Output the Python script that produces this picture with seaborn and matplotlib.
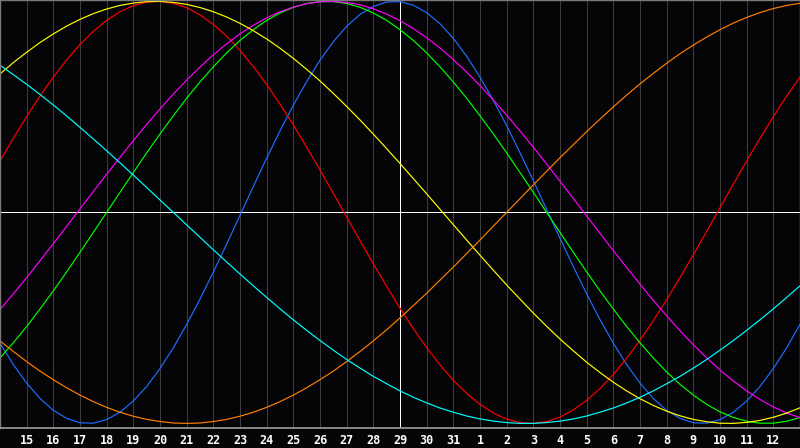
import pandas as pd
import seaborn as sns
import matplotlib.pyplot as plt

# days relative to the current day (29th); values read at whole days and at half days
day_offsets = list(range(-15, 16))
half_offsets = [d + 0.5 for d in range(-15, 15)]
day_labels = ['15', '16', '17', '18', '19', '20', '21', '22', '23', '24', '25', '26', '27', '28',
              '29', '30', '31', '1', '2', '3', '4', '5', '6', '7', '8', '9', '10', '11', '12']
label_pos = list(range(-14, 15))

c23_day = [-0.620, -0.809, -0.938, -0.997, -0.982, -0.894, -0.740, -0.531, -0.283, -0.014, 0.257,
           0.508, 0.721, 0.882, 0.976, 0.999, 0.947, 0.825, 0.641, 0.411, 0.150, -0.123, -0.386,
           -0.620, -0.809, -0.938, -0.997, -0.982, -0.894, -0.740, -0.531]
c23_half = [-0.721, -0.882, -0.976, -0.999, -0.947, -0.825, -0.642, -0.411, -0.150, 0.123, 0.386,
            0.620, 0.809, 0.938, 0.997, 0.982, 0.894, 0.740, 0.531, 0.283, 0.014, -0.257, -0.508,
            -0.721, -0.882, -0.976, -0.999, -0.947, -0.825, -0.642]
c28_day = [0.244, 0.454, 0.641, 0.796, 0.910, 0.980, 1.000, 0.970, 0.891, 0.768, 0.606, 0.414,
           0.201, -0.022, -0.244, -0.454, -0.641, -0.796, -0.910, -0.980, -1.000, -0.970, -0.891,
           -0.768, -0.606, -0.414, -0.201, 0.022, 0.244, 0.454, 0.641]
c28_half = [0.351, 0.551, 0.723, 0.858, 0.951, 0.996, 0.991, 0.936, 0.835, 0.691, 0.513, 0.309,
            0.090, -0.134, -0.351, -0.551, -0.723, -0.858, -0.951, -0.996, -0.991, -0.936, -0.835,
            -0.691, -0.513, -0.309, -0.090, 0.134, 0.351, 0.551]
c33_day = [-0.690, -0.541, -0.372, -0.189, 0.000, 0.189, 0.372, 0.541, 0.690, 0.815, 0.910, 0.972,
           0.999, 0.990, 0.945, 0.866, 0.756, 0.618, 0.458, 0.282, 0.095, -0.095, -0.282, -0.458,
           -0.618, -0.756, -0.866, -0.945, -0.990, -0.999, -0.972]
c33_half = [-0.618, -0.458, -0.282, -0.095, 0.095, 0.282, 0.458, 0.618, 0.756, 0.866, 0.945, 0.990,
            0.999, 0.972, 0.910, 0.815, 0.690, 0.541, 0.372, 0.189, 0.000, -0.189, -0.372, -0.541,
            -0.690, -0.815, -0.910, -0.972, -0.999, -0.990]
c38_day = [-0.461, -0.309, -0.148, 0.017, 0.181, 0.340, 0.490, 0.627, 0.747, 0.846, 0.922, 0.973,
           0.998, 0.995, 0.965, 0.909, 0.828, 0.724, 0.601, 0.461, 0.309, 0.148, -0.017, -0.181,
           -0.340, -0.490, -0.627, -0.747, -0.846, -0.922, -0.973]
c38_half = [-0.386, -0.229, -0.066, 0.099, 0.261, 0.417, 0.561, 0.689, 0.799, 0.887, 0.951, 0.989,
            1.000, 0.984, 0.940, 0.871, 0.779, 0.665, 0.533, 0.386, 0.229, 0.066, -0.099, -0.261,
            -0.417, -0.561, -0.689, -0.799, -0.887, -0.951]
c43_day = [0.656, 0.759, 0.846, 0.915, 0.964, 0.992, 1.000, 0.986, 0.951, 0.896, 0.822, 0.730,
           0.623, 0.502, 0.371, 0.232, 0.088, -0.058, -0.203, -0.344, -0.477, -0.600, -0.710,
           -0.805, -0.883, -0.942, -0.981, -0.999, -0.995, -0.971, -0.926]
c43_half = [0.710, 0.805, 0.883, 0.942, 0.981, 0.999, 0.995, 0.971, 0.926, 0.861, 0.778, 0.678,
            0.564, 0.438, 0.302, 0.160, 0.015, -0.131, -0.274, -0.411, -0.540, -0.656, -0.759,
            -0.846, -0.915, -0.964, -0.992, -1.000, -0.986, -0.951]
c48_day = [-0.609, -0.707, -0.793, -0.866, -0.924, -0.966, -0.991, -1.000, -0.991, -0.966, -0.924,
           -0.866, -0.793, -0.707, -0.609, -0.500, -0.383, -0.259, -0.131, 0.000, 0.131, 0.259,
           0.383, 0.500, 0.609, 0.707, 0.793, 0.866, 0.924, 0.966, 0.991]
c48_half = [-0.659, -0.752, -0.831, -0.897, -0.947, -0.981, -0.998, -0.998, -0.981, -0.947, -0.897,
            -0.831, -0.752, -0.659, -0.556, -0.442, -0.321, -0.195, -0.065, 0.065, 0.195, 0.321,
            0.442, 0.556, 0.659, 0.752, 0.831, 0.897, 0.947, 0.981]
c53_day = [0.697, 0.607, 0.509, 0.403, 0.292, 0.177, 0.059, -0.059, -0.177, -0.292, -0.403, -0.509,
           -0.607, -0.697, -0.777, -0.846, -0.903, -0.947, -0.979, -0.996, -1.000, -0.989, -0.965,
           -0.927, -0.876, -0.812, -0.738, -0.653, -0.559, -0.457, -0.348]
c53_half = [0.653, 0.559, 0.457, 0.348, 0.235, 0.118, 0.000, -0.118, -0.235, -0.348, -0.457, -0.559,
            -0.653, -0.738, -0.812, -0.876, -0.927, -0.965, -0.989, -1.000, -0.996, -0.979, -0.947,
            -0.903, -0.846, -0.777, -0.697, -0.607, -0.509, -0.403]

cycles = {'23': (c23_day, c23_half), '28': (c28_day, c28_half), '33': (c33_day, c33_half),
          '38': (c38_day, c38_half), '43': (c43_day, c43_half), '48': (c48_day, c48_half),
          '53': (c53_day, c53_half)}
colors = {'23': '#1e6eff', '28': '#ff0000', '33': '#00ff00', '38': '#ff00ff',
          '43': '#ffff00', '48': '#ff8000', '53': '#00ffff'}

parts = []
for k, (vd, vh) in cycles.items():
    parts.append(pd.DataFrame({'day': day_offsets, 'value': vd, 'cycle': k}))
    parts.append(pd.DataFrame({'day': half_offsets, 'value': vh, 'cycle': k}))
df = pd.concat(parts).sort_values(['cycle', 'day'])

bg = '#050407'
fig = plt.figure(figsize=(8, 4.48), dpi=100, facecolor=bg)
ax = fig.add_axes([0, 20 / 448, 1, 428 / 448])
ax.set_facecolor(bg)

ax.set_xlim(-15, 15)
ax.set_ylim(-1.0218, 1.0066)
ax.set_xticks(label_pos)
ax.set_xticklabels(day_labels)
ax.set_yticks([])
ax.grid(axis='x', color='#3e3e3e', linewidth=0.72, zorder=0)
ax.set_axisbelow(True)
ax.axvline(0, color='white', linewidth=0.72, zorder=1)
ax.axhline(0, color='white', linewidth=0.72, zorder=1)

sns.lineplot(data=df, x='day', y='value', hue='cycle', hue_order=list(cycles.keys()),
             palette=colors, linewidth=0.85, legend=False,
             errorbar=None, ax=ax, zorder=2)

ax.tick_params(axis='x', length=0, pad=4.5, colors='white', labelsize=8.5)
for lab in ax.get_xticklabels():
    lab.set_family('DejaVu Sans Mono')
    lab.set_fontweight('bold')
ax.set_xlabel('')
ax.set_ylabel('')
for side in ['left', 'top', 'right']:
    ax.spines[side].set_color('#7a7a7a')
    ax.spines[side].set_linewidth(1.0)
ax.spines['bottom'].set_color('#a0a0a0')
ax.spines['bottom'].set_linewidth(1.2)

fig.savefig('out.png', dpi=100, facecolor=bg)
